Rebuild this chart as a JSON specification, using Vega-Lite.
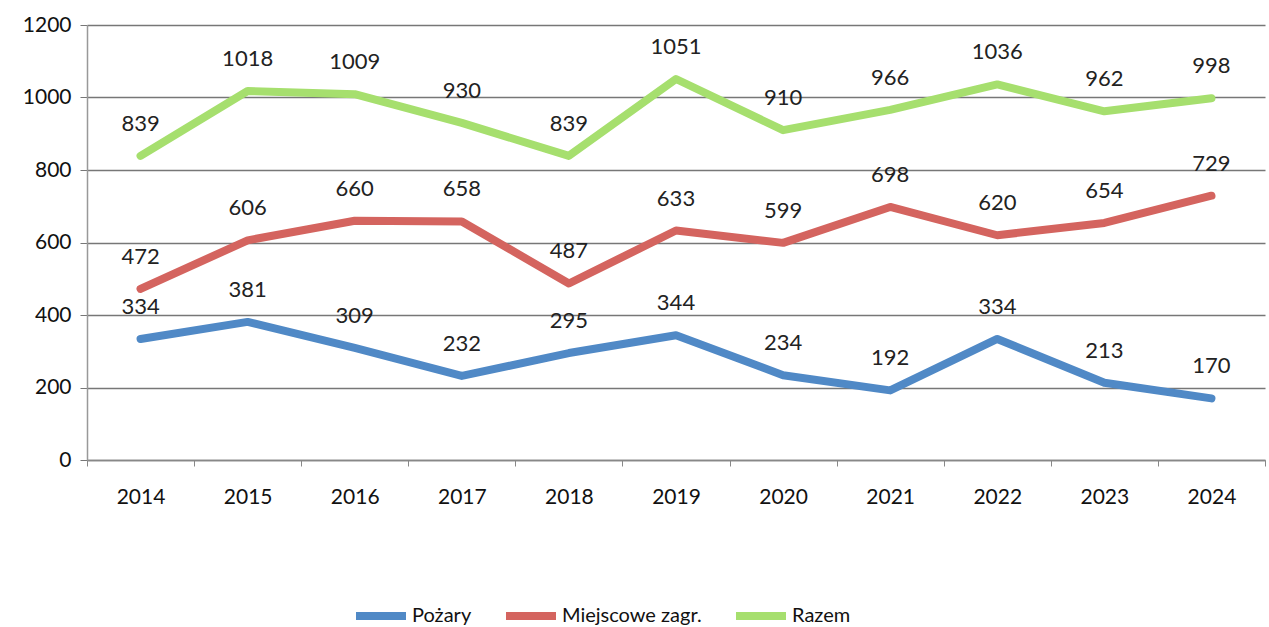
{
  "$schema": "https://vega.github.io/schema/vega-lite/v6.json",
  "autosize": {"type": "none"},
  "width": 1178,
  "height": 435,
  "padding": {"left": 87, "top": 25, "right": 4, "bottom": 167},
  "background": "white",
  "config": {
    "view": {"stroke": null},
    "font": "Lato"
  },
  "data": {
    "values": [
      {"rok": "2014", "seria": "Pożary", "wartosc": 334},
      {"rok": "2015", "seria": "Pożary", "wartosc": 381},
      {"rok": "2016", "seria": "Pożary", "wartosc": 309},
      {"rok": "2017", "seria": "Pożary", "wartosc": 232},
      {"rok": "2018", "seria": "Pożary", "wartosc": 295},
      {"rok": "2019", "seria": "Pożary", "wartosc": 344},
      {"rok": "2020", "seria": "Pożary", "wartosc": 234},
      {"rok": "2021", "seria": "Pożary", "wartosc": 192},
      {"rok": "2022", "seria": "Pożary", "wartosc": 334},
      {"rok": "2023", "seria": "Pożary", "wartosc": 213},
      {"rok": "2024", "seria": "Pożary", "wartosc": 170},
      {"rok": "2014", "seria": "Miejscowe zagr.", "wartosc": 472},
      {"rok": "2015", "seria": "Miejscowe zagr.", "wartosc": 606},
      {"rok": "2016", "seria": "Miejscowe zagr.", "wartosc": 660},
      {"rok": "2017", "seria": "Miejscowe zagr.", "wartosc": 658},
      {"rok": "2018", "seria": "Miejscowe zagr.", "wartosc": 487},
      {"rok": "2019", "seria": "Miejscowe zagr.", "wartosc": 633},
      {"rok": "2020", "seria": "Miejscowe zagr.", "wartosc": 599},
      {"rok": "2021", "seria": "Miejscowe zagr.", "wartosc": 698},
      {"rok": "2022", "seria": "Miejscowe zagr.", "wartosc": 620},
      {"rok": "2023", "seria": "Miejscowe zagr.", "wartosc": 654},
      {"rok": "2024", "seria": "Miejscowe zagr.", "wartosc": 729},
      {"rok": "2014", "seria": "Razem", "wartosc": 839},
      {"rok": "2015", "seria": "Razem", "wartosc": 1018},
      {"rok": "2016", "seria": "Razem", "wartosc": 1009},
      {"rok": "2017", "seria": "Razem", "wartosc": 930},
      {"rok": "2018", "seria": "Razem", "wartosc": 839},
      {"rok": "2019", "seria": "Razem", "wartosc": 1051},
      {"rok": "2020", "seria": "Razem", "wartosc": 910},
      {"rok": "2021", "seria": "Razem", "wartosc": 966},
      {"rok": "2022", "seria": "Razem", "wartosc": 1036},
      {"rok": "2023", "seria": "Razem", "wartosc": 962},
      {"rok": "2024", "seria": "Razem", "wartosc": 998}
    ]
  },
  "encoding": {
    "x": {
      "field": "rok",
      "type": "ordinal",
      "bandPosition": 0.5,
      "scale": {"type": "band", "paddingInner": 0, "paddingOuter": 0},
      "axis": {
        "title": null,
        "labelAngle": 0,
        "labelFontSize": 21,
        "labelColor": "#111",
        "labelPadding": 20,
        "tickBand": "extent",
        "tickSize": 6,
        "tickColor": "#888",
        "domainColor": "#888",
        "domainWidth": 1.5,
        "grid": false
      }
    },
    "y": {
      "field": "wartosc",
      "type": "quantitative",
      "scale": {"domain": [0, 1200]},
      "axis": {
        "title": null,
        "values": [0, 200, 400, 600, 800, 1000, 1200],
        "format": "d",
        "labelFontSize": 21,
        "labelColor": "#111",
        "labelPadding": 9,
        "tickSize": 7,
        "tickColor": "#777",
        "domainColor": "#999",
        "domainWidth": 1.5,
        "grid": true,
        "gridColor": "#777",
        "gridWidth": 1.5
      }
    }
  },
  "layer": [
    {
      "mark": {"type": "line", "strokeWidth": 8, "strokeCap": "round", "strokeJoin": "round"},
      "encoding": {
        "color": {
          "field": "seria",
          "type": "nominal",
          "scale": {
            "domain": ["Pożary", "Miejscowe zagr.", "Razem"],
            "range": ["#5089c6", "#d4645f", "#a6df6e"]
          },
          "legend": {
            "title": null,
            "orient": "none",
            "direction": "horizontal",
            "legendX": 265,
            "legendY": 562,
            "symbolType": "stroke",
            "symbolSize": 2500,
            "symbolStrokeWidth": 8,
            "labelFontSize": 20,
            "labelColor": "#111",
            "labelOffset": 2,
            "columnPadding": 18
          }
        },
        "order": {"field": "rok"}
      }
    },
    {
      "mark": {"type": "text", "dy": -32, "fontSize": 22, "color": "#222"},
      "encoding": {
        "text": {"field": "wartosc", "type": "quantitative"}
      }
    }
  ]
}
